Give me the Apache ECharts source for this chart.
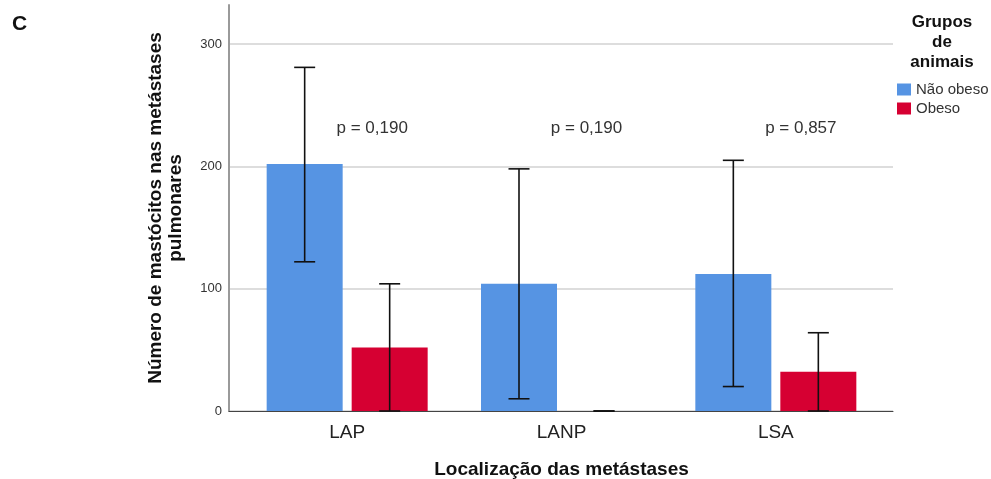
<!DOCTYPE html>
<html>
<head>
<meta charset="utf-8">
<script src="https://cdn.jsdelivr.net/npm/echarts@6/dist/echarts.min.js"></script>
<style>
  html, body { margin: 0; padding: 0; background: #ffffff; }
  #chart { width: 991px; height: 479px; }
</style>
</head>
<body>
<div id="chart"></div>
<script>
// Locations of the lung metastases and the two animal groups
const categories = ['LAP', 'LANP', 'LSA'];
const groups = ['Não obeso', 'Obeso'];

// Mean number of mast cells per location
const meanNaoObeso = [202, 104, 112];
const meanObeso = [52, 0, 32];

// Error bar limits
const lowNaoObeso = [122, 10, 20];
const highNaoObeso = [281, 198, 205];
const lowObeso = [0, 0, 0];
const highObeso = [104, 0, 64];

// Comparison p-values per location
const pLabels = ['p = 0,190', 'p = 0,190', 'p = 0,857'];

// Value axis
const yTicks = [0, 100, 200, 300];
const yMax = 332;

const FONT = '"Liberation Sans", Arial, sans-serif';
const BLUE = '#5694e3';
const RED = '#d60032';
const BAR_W = 76;
const BAR_GAP = 9;
const HALF_STEP = (BAR_W + BAR_GAP) / 2;

function errorBarSeries(name, lows, highs, side) {
  return {
    type: 'custom',
    name: name + ' erro',
    xAxisIndex: 1,
    yAxisIndex: 1,
    z: 10,
    silent: true,
    data: categories.map((c, i) => [i, lows[i], highs[i]]),
    renderItem: function (params, api) {
      const lo = api.coord([api.value(0), api.value(1)]);
      const hi = api.coord([api.value(0), api.value(2)]);
      const x = lo[0] + side * HALF_STEP;
      const cap = 10.5;
      const style = { stroke: '#111111', lineWidth: 1.6 };
      return {
        type: 'group',
        children: [
          { type: 'line', shape: { x1: x, y1: lo[1], x2: x, y2: hi[1] }, style: style },
          { type: 'line', shape: { x1: x - cap, y1: hi[1], x2: x + cap, y2: hi[1] }, style: style },
          { type: 'line', shape: { x1: x - cap, y1: lo[1], x2: x + cap, y2: lo[1] }, style: style }
        ]
      };
    }
  };
}

const chart = echarts.init(document.getElementById('chart'), null, { renderer: 'canvas' });

chart.setOption({
  backgroundColor: '#ffffff',
  animation: false,
  grid: [
    // frame grid: axis lines, value labels and gridlines
    { left: 229, right: 98, top: 5, bottom: 68, outerBoundsMode: 'none', containLabel: false },
    // data grid: the category bands
    { left: 240, right: 108, top: 5, bottom: 68, outerBoundsMode: 'none', containLabel: false }
  ],
  xAxis: [
    {
      type: 'value', gridIndex: 0, min: 0, max: 1,
      axisLine: { show: true, onZero: false, lineStyle: { color: '#444444', width: 1 } },
      axisTick: { show: false }, axisLabel: { show: false }, splitLine: { show: false }
    },
    {
      type: 'category', gridIndex: 1, data: categories,
      axisLine: { show: false }, axisTick: { show: false },
      axisLabel: { color: '#222222', fontFamily: FONT, fontSize: 19, margin: 12 },
      name: 'Localização das metástases',
      nameLocation: 'middle', nameGap: 49,
      nameTextStyle: { color: '#111111', fontFamily: FONT, fontSize: 19, fontWeight: 'bold' }
    }
  ],
  yAxis: [
    {
      type: 'value', gridIndex: 0, min: 0, max: yMax, interval: 100,
      axisLine: { show: true, lineStyle: { color: '#9a9a9a', width: 2 } },
      axisTick: { show: false },
      axisLabel: {
        color: '#333333', fontFamily: FONT, fontSize: 13, margin: 7, showMaxLabel: false,
        formatter: v => (yTicks.indexOf(v) >= 0 ? String(v) : '')
      },
      splitLine: { show: true, showMaxLine: false, lineStyle: { color: '#d2d2d2', width: 1.5 } },
      name: 'Número de mastócitos nas metástases\npulmonares',
      nameLocation: 'middle', nameGap: 43, nameRotate: 90,
      nameTextStyle: { color: '#111111', fontFamily: FONT, fontSize: 19, fontWeight: 'bold', lineHeight: 20, align: 'center' }
    },
    {
      type: 'value', gridIndex: 1, min: 0, max: yMax, interval: 100, show: false
    }
  ],
  legend: {
    data: groups,
    orient: 'vertical',
    left: 897, top: 82,
    padding: 0,
    icon: 'rect',
    itemWidth: 14, itemHeight: 12, itemGap: 4,
    textStyle: { color: '#333333', fontFamily: FONT, fontSize: 15 }
  },
  graphic: [
    {
      type: 'text', left: 12, top: 14,
      style: { text: 'C', fill: '#111111', font: 'bold 21px ' + FONT }
    },
    {
      type: 'text', x: 942, y: 12,
      style: {
        text: 'Grupos\nde\nanimais', fill: '#111111', font: 'bold 17px ' + FONT,
        align: 'center', verticalAlign: 'top', lineHeight: 20
      }
    }
  ],
  series: [
    {
      name: groups[0], type: 'bar', xAxisIndex: 1, yAxisIndex: 1,
      data: meanNaoObeso, barWidth: BAR_W, barGap: (BAR_GAP / BAR_W * 100) + '%',
      itemStyle: { color: BLUE }
    },
    {
      name: groups[1], type: 'bar', xAxisIndex: 1, yAxisIndex: 1,
      data: meanObeso, barWidth: BAR_W, barGap: (BAR_GAP / BAR_W * 100) + '%',
      itemStyle: { color: RED }
    },
    errorBarSeries(groups[0], lowNaoObeso, highNaoObeso, -1),
    errorBarSeries(groups[1], lowObeso, highObeso, 1),
    {
      type: 'custom', name: 'p', xAxisIndex: 1, yAxisIndex: 1, z: 11, silent: true,
      data: categories.map((c, i) => [i, 231]),
      renderItem: function (params, api) {
        const p = api.coord([api.value(0), api.value(1)]);
        return {
          type: 'text',
          x: p[0] + 25, y: p[1],
          style: {
            text: pLabels[params.dataIndex], fill: '#333333',
            font: '17px ' + FONT, align: 'center', verticalAlign: 'middle'
          }
        };
      }
    }
  ]
});
</script>
</body>
</html>
